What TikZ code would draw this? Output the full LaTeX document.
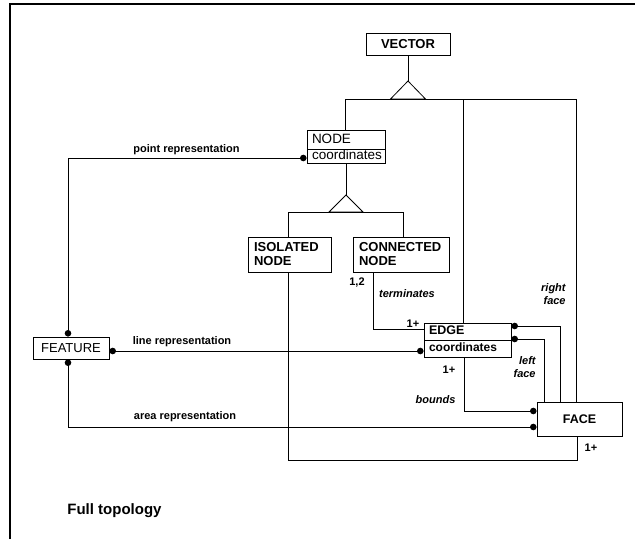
\documentclass[tikz,border=0pt]{standalone}
\usepackage{fontspec}
\setmainfont{Liberation Sans}
\begin{document}
\begin{tikzpicture}[x=1pt,y=-1pt,line width=0.8pt,
  box/.style={draw, line width=0.8pt, inner ysep=0pt, inner xsep=0pt},
  bigb/.style={font=\fontsize{13}{14}\selectfont\bfseries},
  bigr/.style={font=\fontsize{13.5}{14}\selectfont},
  lbl/.style={inner sep=0pt, font=\fontsize{11}{13}\selectfont\bfseries},
  lbli/.style={inner sep=0pt, font=\fontsize{11}{13}\selectfont\bfseries\itshape},
  dot/.style={fill=black}]
\useasboundingbox (0,0) rectangle (635,539);
\fill[white] (0,0) rectangle (635,539);
% frame
\draw[line width=2pt] (10,539) -- (10,4) -- (635,4);

% boxes
\node[box, bigb, minimum width=84, minimum height=22] (vector) at (408,44) {VECTOR};
\node[box, bigr, minimum width=78, minimum height=19, text width=68, inner xsep=5, align=left, text height=9.5, text depth=2.5] (nodeT) at (346,139.5) {NODE};
\node[box, bigr, minimum width=78, minimum height=14, text width=68, inner xsep=5, align=left, text height=9.5, text depth=2.5] (nodeC) at (346,156) {coordinates};
\node[box, bigb, minimum width=83, minimum height=35, text width=71, inner xsep=6, align=left] (isolated) at (289.5,254.5) {ISOLATED\\NODE};
\node[box, bigb, minimum width=96, minimum height=35, text width=84, inner xsep=6, align=left] (connected) at (401,254.5) {CONNECTED\\NODE};
\node[box, font=\fontsize{12.5}{14}\selectfont\bfseries, minimum width=87, minimum height=17, text width=77, inner xsep=5, align=left, text height=9, text depth=2.5] (edgeT) at (467.5,331.5) {EDGE};
\node[box, font=\fontsize{12}{14}\selectfont\bfseries, minimum width=87, minimum height=17, text width=77, inner xsep=5, align=left, text height=9, text depth=2.5] (edgeC) at (467.5,348.5) {coordinates};
\node[box, font=\fontsize{13}{14}\selectfont, minimum width=76, minimum height=22] (feature) at (71,348) {FEATURE};
\node[box, font=\fontsize{12.5}{14}\selectfont\bfseries, minimum width=85, minimum height=34] (face) at (579.5,419) {FACE};

% generalization VECTOR
\coordinate (gv) at (408,81);
\coordinate (vbarL) at (345,99);
\coordinate (vbarR) at (576,99);
\coordinate (vE) at (463,99);
\draw (vector.south) -- (gv);
\draw (gv) -- ++(-17.5,18) -- ++(35,0) -- cycle;
\path (face.north) ++(-3.5,0) coordinate (faT3);
\draw (nodeT.north -| vbarL) |- (vbarR) -- (faT3);
\draw (vE) -- (vE |- edgeT.north);

% generalization NODE
\coordinate (gn) at (346,195);
\coordinate (nbarL) at (288,212);
\coordinate (nbarR) at (403,212);
\draw (nodeC.south) -- (gn);
\draw (gn) -- ++(-17,17) -- ++(34,0) -- cycle;
\draw (isolated.north -| nbarL) |- (nbarR) -- (nbarR |- connected.north);

% dot points
\path (feature.north) ++(-3,-3.3) coordinate (fT);
\path (feature.south) ++(-3,3.3) coordinate (fB);
\path (feature.east) ++(3.3,3) coordinate (fR);
\path (nodeC.west) ++(-3.3,2) coordinate (nL);
\path (edgeC.west) ++(-3.3,2.5) coordinate (eL);
\path (edgeT.east) ++(3.3,-5.5) coordinate (eR1);
\path (edgeT.east) ++(3.3,7.5) coordinate (eR2);
\path (face.west) ++(-3.3,-8) coordinate (faL1);
\path (face.west) ++(-3.3,8) coordinate (faL2);
\path (edgeC.south) ++(-3.5,0) coordinate (eB);
\path (face.north) ++(-19.5,0) coordinate (faT1);
\path (face.north) ++(-35.5,0) coordinate (faT2);
\path (face.south) ++(-2.5,0) coordinate (faBot);
\path (isolated.south) ++(-1.5,0) coordinate (iB);
\path (connected.south) ++(-28,0) coordinate (cB);
\path (edgeT.west) ++(0,-2.5) coordinate (eT);

% associations
\draw (fT) |- (nL);
\draw (fR) -- (eL);
\draw (fB) |- (faL2);
\draw (eB) |- (faL1);
\draw (eR1) -| (faT1);
\draw (eR2) -| (faT2);
\draw (iB) -- ++(0,188) -| (faBot);
\draw (cB) |- (eT);

\foreach \p in {fT,fB,fR,nL,eL,eR1,eR2,faL1,faL2}
  \fill[dot] (\p) circle (3.3);

% labels
\node[lbl, anchor=base] (lp) at (186.5,152) {point representation};
\node[lbl, anchor=base] (ll) at (182,344) {line representation};
\node[lbl, anchor=base] (la) at (185,419) {area representation};
\node[lbl, anchor=base] (l12) at (357,285) {1,2};
\node[lbli, anchor=base] (lterm) at (407,297) {terminates};
\node[lbl, anchor=base] (l1a) at (413,327) {1+};
\node[lbli, anchor=base east, align=right] (lrf) at (566,304) {right\\face};
\node[lbli, anchor=base east, align=right] (llf) at (536,377) {left\\face};
\node[lbl, anchor=base] (l1b) at (449,373) {1+};
\node[lbli, anchor=base] (lb) at (435.5,403) {bounds};
\node[lbl, anchor=base] (l1c) at (591,451) {1+};
\node[inner sep=0pt, anchor=base west, font=\fontsize{15}{16}\selectfont\bfseries] (title) at (67,514) {Full topology};
\end{tikzpicture}
\end{document}
